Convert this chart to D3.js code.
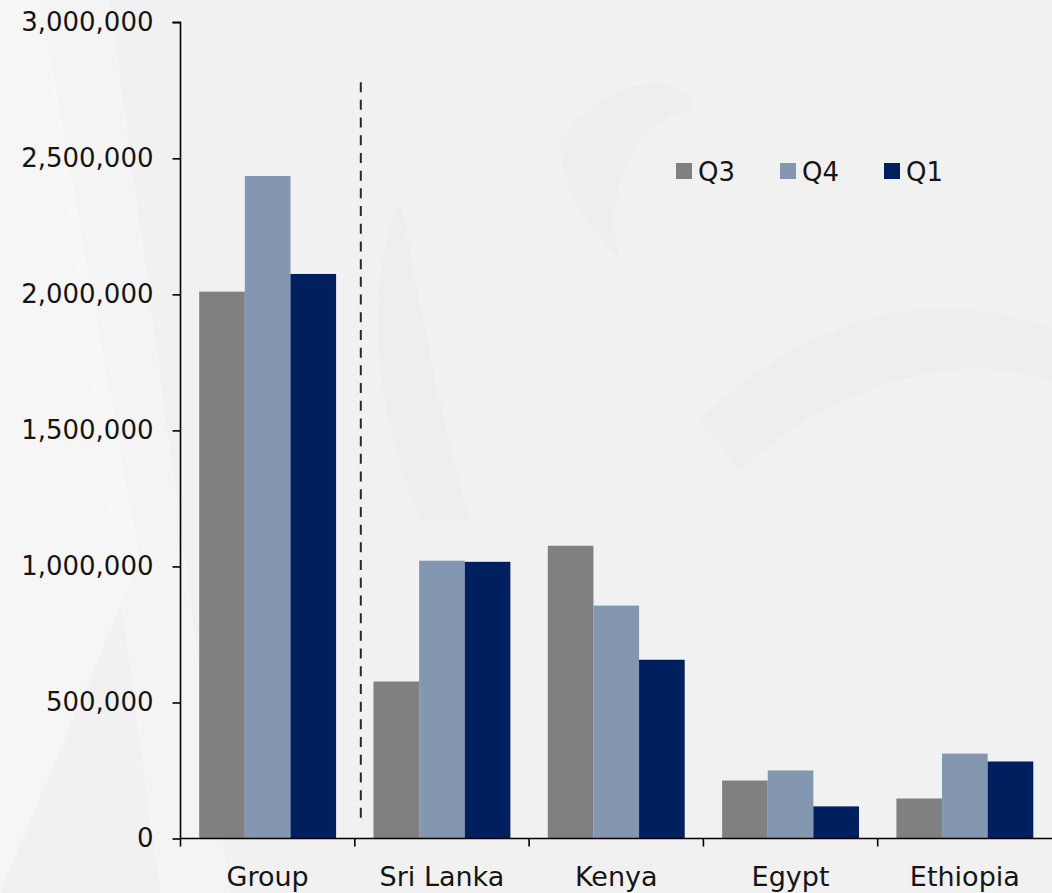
<!DOCTYPE html>
<html>
<head>
<meta charset="utf-8">
<script src="https://cdn.jsdelivr.net/npm/d3@7"></script>
<style>
  html, body { margin: 0; padding: 0; background: #f1f1f1; }
  svg { display: block; }
  text { font-family: "DejaVu Sans", sans-serif; fill: #151515; }
</style>
</head>
<body>
<svg id="chart" width="1052" height="893"></svg>
<script>
const categories = ["Group", "Sri Lanka", "Kenya", "Egypt", "Ethiopia"];
const seriesNames = ["Q3", "Q4", "Q1"];
const q3 = [2010000, 577000, 1076000, 213000, 147000];
const q4 = [2435000, 1021000, 856000, 250000, 312000];
const q1 = [2075000, 1017000, 657000, 118000, 283000];
const yTicks = [0, 500000, 1000000, 1500000, 2000000, 2500000, 3000000];
const colors = ["#808080", "#8497b0", "#001f5f"];

const seriesValues = [q3, q4, q1];
const W = 1052, H = 893;
const margin = { left: 180.5, right: 0, top: 22.3, bottom: 893 - 838.5 };
const svg = d3.select("#chart");

// faint background watermark
const bg = svg.append("g");
bg.append("rect").attr("width", W).attr("height", H).attr("fill", "#f1f1f1");
bg.append("path").attr("d", "M0,0 L40,0 L140,560 L0,893 Z").attr("fill", "#f6f6f6");
bg.append("path").attr("d", "M40,0 L110,0 L230,893 L160,893 Z").attr("fill", "#f7f7f7").attr("opacity", 0.5);
bg.append("path").attr("d", "M560,140 C620,60 700,80 690,110 C640,120 600,180 620,260 C580,220 560,180 560,140 Z").attr("fill", "#ebebeb").attr("opacity", 0.5);
bg.append("path").attr("d", "M700,420 C820,300 960,290 1052,330 L1052,380 C960,350 840,380 740,470 Z").attr("fill", "#ebebeb").attr("opacity", 0.5);
bg.append("path").attr("d", "M420,520 C380,420 360,300 400,200 C420,300 440,420 470,520 Z").attr("fill", "#ebebeb").attr("opacity", 0.4);

const x0 = d3.scaleBand().domain(categories)
  .range([margin.left, W - margin.right]).paddingInner(0).paddingOuter(0);
const x1 = d3.scaleBand().domain(seriesNames)
  .range([0, x0.bandwidth()]).paddingInner(0).paddingOuter(0.41);
const y = d3.scaleLinear().domain([0, 3000000]).range([H - margin.bottom, margin.top]);

// bars
const g = svg.append("g");
categories.forEach((c, i) => {
  seriesNames.forEach((s, j) => {
    const v = seriesValues[j][i];
    g.append("rect")
      .attr("x", x0(c) + x1(s))
      .attr("y", y(v))
      .attr("width", x1.bandwidth())
      .attr("height", y(0) - y(v))
      .attr("fill", colors[j]);
  });
});

// dashed separator between Group and Sri Lanka
const sepX = x0("Sri Lanka") + 6;
svg.append("line")
  .attr("x1", sepX).attr("x2", sepX)
  .attr("y1", y(2780000)).attr("y2", y(50000))
  .attr("stroke", "#1f2a38").attr("stroke-width", 2)
  .attr("stroke-dasharray", "10,7.7");

// y axis
const fmt = d3.format(",");
const yAxis = svg.append("g").attr("transform", `translate(${margin.left},0)`)
  .call(d3.axisLeft(y).tickValues(yTicks).tickFormat(d => fmt(d)).tickSize(8).tickPadding(19));
yAxis.select(".domain").attr("stroke", "#000").attr("stroke-width", 1.6).attr("d", `M-8,${y(3000000)}H0V${y(0)}`);
yAxis.selectAll(".tick line").attr("stroke", "#000").attr("stroke-width", 1.6);
yAxis.selectAll(".tick text").attr("font-size", 26).attr("fill", "#151515")
  .style("font-family", '"DejaVu Sans", sans-serif');

// x axis
const xTickPositions = categories.map(c => x0(c));
const xAxisG = svg.append("g").attr("transform", `translate(0,${y(0)})`);
xAxisG.append("line").attr("x1", margin.left).attr("x2", W).attr("y1", 0).attr("y2", 0)
  .attr("stroke", "#000").attr("stroke-width", 1.6);
xAxisG.selectAll(".xt").data(xTickPositions).join("line")
  .attr("x1", d => d).attr("x2", d => d).attr("y1", 0).attr("y2", 8)
  .attr("stroke", "#000").attr("stroke-width", 1.6);
xAxisG.selectAll(".xl").data(categories).join("text")
  .attr("x", d => x0(d) + x0.bandwidth() / 2)
  .attr("y", 47)
  .attr("text-anchor", "middle")
  .attr("font-size", 27)
  .text(d => d);

// legend
const legendX = [676, 780, 884];
const legend = svg.append("g");
seriesNames.forEach((s, j) => {
  legend.append("rect").attr("x", legendX[j]).attr("y", 163).attr("width", 16).attr("height", 16).attr("fill", colors[j]);
  legend.append("text").attr("x", legendX[j] + 22).attr("y", 181).attr("font-size", 26).text(s);
});
</script>
</body>
</html>
